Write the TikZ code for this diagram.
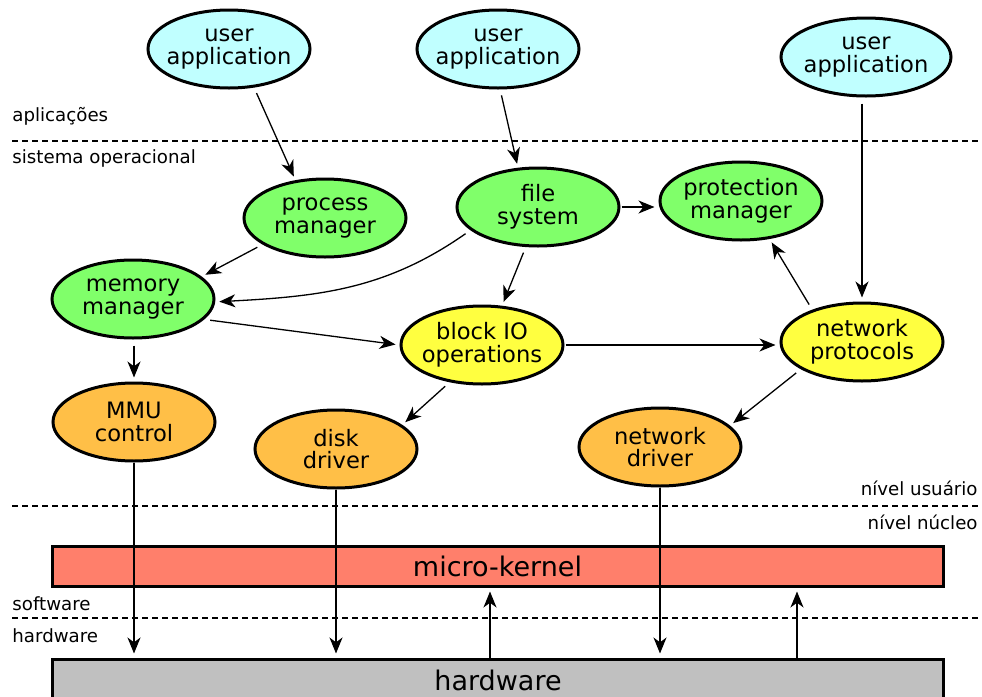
\documentclass[tikz,border=0pt]{standalone}
\usepackage{fontspec}
\setmainfont{DejaVu Sans}
\usetikzlibrary{arrows.meta,shapes.geometric}
\definecolor{ciano}{HTML}{C0FFFF}
\definecolor{verde}{HTML}{80FF6A}
\definecolor{amarelo}{HTML}{FFFF40}
\definecolor{laranja}{HTML}{FFBF47}
\definecolor{salmao}{HTML}{FF7F6B}
\definecolor{cinza}{HTML}{C0C0C0}
\begin{document}
\begin{tikzpicture}[x=0.5pt,y=-0.5pt]
\tikzset{elipse/.style={draw, ellipse, line width=1.5pt, inner xsep=-5pt, inner ysep=0pt, minimum width=81pt, minimum height=39pt, align=center, font=\fontsize{11.3}{11.4}\selectfont},
  aplic/.style={elipse, fill=ciano},
  sistema/.style={elipse, fill=verde},
  es/.style={elipse, fill=amarelo},
  driver/.style={elipse, fill=laranja},
  camada/.style={draw, rectangle, line width=1.5pt, minimum width=445.5pt, minimum height=20pt, inner sep=0pt, font=\fontsize{13.5}{14}\selectfont},
  seta/.style={-{Stealth[length=8pt,width=6.5pt,inset=2.4pt]}, line width=0.65pt, shorten <=3pt, shorten >=2pt},
  nivel/.style={font=\fontsize{9.1}{10}\selectfont, inner sep=0pt},
  divisa/.style={dash pattern=on 3pt off 2pt, line width=0.6pt}}
\useasboundingbox (0,0) rectangle (982,697);
% niveis
\draw[divisa] (12,141) -- (978,141);
\draw[divisa] (12,506) -- (978,506);
\draw[divisa] (12,618) -- (978,618);
\node[nivel, anchor=west] (lapl) at (12,116) {aplicações};
\node[nivel, anchor=west] (lso) at (12,158) {sistema operacional};
\node[nivel, anchor=east] (lusr) at (978,488) {nível usuário};
\node[nivel, anchor=east] (lnuc) at (978,522) {nível núcleo};
\node[nivel, anchor=west] (lsw) at (12,604) {software};
\node[nivel, anchor=west] (lhw) at (12,636) {hardware};
% nos
\node[aplic] (ua1) at (229,49) {user\\application};
\node[aplic] (ua2) at (498,49) {user\\application};
\node[aplic, minimum width=85pt] (ua3) at (866,57) {user\\application};
\node[sistema] (pm) at (325,218) {process\\manager};
\node[sistema] (fs) at (538,207) {file\\system};
\node[sistema] (prot) at (741,201) {protection\\manager};
\node[sistema] (mm) at (133,299) {memory\\manager};
\node[es] (bio) at (482,345) {block IO\\operations};
\node[es] (np) at (862,342) {network\\protocols};
\node[driver] (mmu) at (134,422) {MMU\\control};
\node[driver] (dd) at (336,449) {disk\\driver};
\node[driver] (nd) at (660,447) {network\\driver};
\node[camada, fill=salmao] (mk) at (497.5,566) {micro-kernel};
\node[camada, fill=cinza, minimum height=21pt] (hw) at (498,680) {hardware};
% setas
\draw[seta] (ua1.-57) -- (pm.128);
\draw[seta] (ua2.-87) -- (fs.117);
\draw[seta] (ua3.south -| np.north) -- (np.north);
\draw[seta] (pm.203) -- (mm.18);
\draw[seta] (fs.199) to[out=215,in=3] (mm.-2);
\draw[seta] (fs.253) -- (bio.63);
\draw[seta, shorten <=0.5pt] (fs.east) -- (prot.west |- fs.east);
\draw[seta] (mm.-16) -- (bio.west);
\draw[seta] (mm.south -| mmu.north) -- (mmu.north);
\draw[seta, shorten <=0.5pt] (bio.east) -- (bio.east -| np.west);
\draw[seta] (np.147) -- (prot.-53);
\draw[seta] (bio.229) -- (dd.20);
\draw[seta] (np.204) -- (nd.17);
\draw[seta, shorten <=0pt] (mmu.south) -- (mmu.south |- hw.north);
\draw[seta, shorten <=0pt] (dd.south) -- (dd.south |- hw.north);
\draw[seta, shorten <=0pt] (nd.south) -- (nd.south |- hw.north);
\draw[seta, shorten <=0pt] ([xshift=-4pt]hw.north) -- ([xshift=-3.75pt]mk.south);
\draw[seta, shorten <=0pt] ([xshift=149.5pt]hw.north) -- ([xshift=149.75pt]mk.south);
\end{tikzpicture}
\end{document}
